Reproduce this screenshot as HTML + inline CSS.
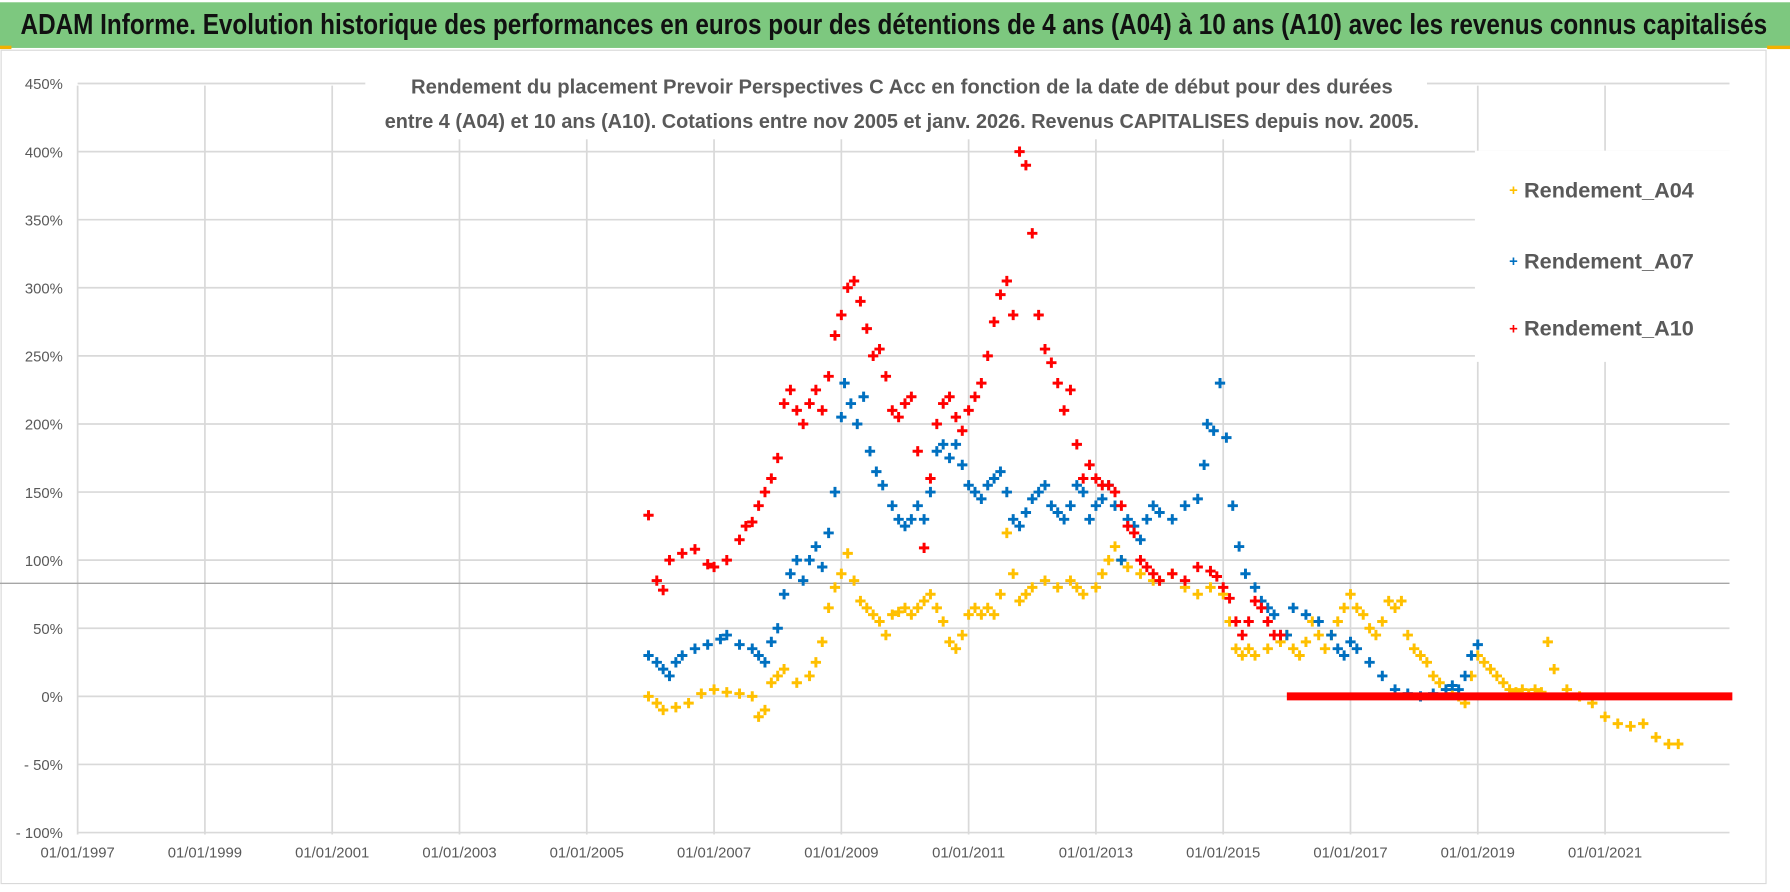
<!DOCTYPE html>
<html><head><meta charset="utf-8"><style>
body{margin:0;background:#fff;width:1790px;height:887px;overflow:hidden;font-family:"Liberation Sans",sans-serif}
</style></head><body>
<svg id="chart" width="1790" height="887" viewBox="0 0 1568 777" preserveAspectRatio="none" xmlns="http://www.w3.org/2000/svg">
<rect x="0" y="0" width="1568" height="777" fill="#fff"/>
<rect x="0" y="2" width="1568" height="40" fill="#7dc87f"/>
<rect x="0" y="40" width="10" height="3" fill="#f2b100"/>
<rect x="1548" y="40" width="20" height="3" fill="#f2b100"/>
<text x="783" y="30" text-anchor="middle" font-size="25" font-weight="bold" fill="#111" textLength="1530" lengthAdjust="spacingAndGlyphs">ADAM Informe. Evolution historique des performances en euros pour des détentions de 4 ans (A04) à 10 ans (A10) avec les revenus connus capitalisés</text>
<rect x="1" y="44" width="1546" height="730" fill="none" stroke="#d9d9d9"/>
<g id="grid"></g>
<g id="axes"></g>
<rect x="320" y="58" width="930" height="64" fill="#fff"/>
<text x="790" y="82" text-anchor="middle" font-size="18" font-weight="bold" fill="#595959" textLength="860" lengthAdjust="spacingAndGlyphs">Rendement du placement Prevoir Perspectives C Acc en fonction de la date de début pour des durées</text>
<text x="790" y="112" text-anchor="middle" font-size="18" font-weight="bold" fill="#595959" textLength="906" lengthAdjust="spacingAndGlyphs">entre 4 (A04) et 10 ans (A10). Cotations entre nov 2005 et janv. 2026. Revenus CAPITALISES depuis nov. 2005.</text>
<g id="marks"></g>
<g>
<rect x="1292" y="132" width="230" height="185" fill="#fff"/>
<g><text x="1322" y="171" font-size="13" fill="#ffc000" font-weight="bold">+</text><text x="1335" y="173" font-size="19" font-weight="bold" fill="#595959">Rendement_A04</text></g>
<g><text x="1322" y="233" font-size="13" fill="#0070c0" font-weight="bold">+</text><text x="1335" y="235" font-size="19" font-weight="bold" fill="#595959">Rendement_A07</text></g>
<g><text x="1322" y="292" font-size="13" fill="#ff0000" font-weight="bold">+</text><text x="1335" y="294" font-size="19" font-weight="bold" fill="#595959">Rendement_A10</text></g>
</g>
</svg>
<script>
const yTicks=[450,400,350,300,250,200,150,100,50,0,-50,-100];
const yTickLabels=["450%","400%","350%","300%","250%","200%","150%","100%","50%","0%","- 50%","- 100%"];
const xTicks=[1997,1999,2001,2003,2005,2007,2009,2011,2013,2015,2017,2019,2021];
const xTickLabels=["01/01/1997","01/01/1999","01/01/2001","01/01/2003","01/01/2005","01/01/2007","01/01/2009","01/01/2011","01/01/2013","01/01/2015","01/01/2017","01/01/2019","01/01/2021"];
const refLine=83;
const a10Dates=[2005.97,2006.1,2006.2,2006.3,2006.5,2006.7,2006.9,2007.0,2007.2,2007.4,2007.5,2007.6,2007.7,2007.8,2007.9,2008.0,2008.1,2008.2,2008.3,2008.4,2008.5,2008.6,2008.7,2008.8,2008.9,2009.0,2009.1,2009.2,2009.3,2009.4,2009.5,2009.6,2009.7,2009.8,2009.9,2010.0,2010.1,2010.2,2010.3,2010.4,2010.5,2010.6,2010.7,2010.8,2010.9,2011.0,2011.1,2011.2,2011.3,2011.4,2011.5,2011.6,2011.7,2011.8,2011.9,2012.0,2012.1,2012.2,2012.3,2012.4,2012.5,2012.6,2012.7,2012.8,2012.9,2013.0,2013.1,2013.2,2013.3,2013.4,2013.5,2013.6,2013.7,2013.8,2013.9,2014.0,2014.2,2014.4,2014.6,2014.8,2014.9,2015.0,2015.1,2015.2,2015.3,2015.4,2015.5,2015.6,2015.7,2015.8,2015.9];
const a10Values=[133,85,78,100,105,108,97,95,100,115,125,128,140,150,160,175,215,225,210,200,215,225,210,235,265,280,300,305,290,270,250,255,235,210,205,215,220,180,109,160,200,215,220,205,195,210,220,230,250,275,295,305,280,400,390,340,280,255,245,230,210,225,185,160,170,160,155,155,150,140,125,120,100,95,90,85,90,85,95,92,88,80,72,55,45,55,70,65,55,45,45];
const a10FlatDates=[2016.0,2023.0];
const a10FlatValues=[0,0];
const a07Dates=[2005.97,2006.1,2006.2,2006.3,2006.4,2006.5,2006.7,2006.9,2007.1,2007.2,2007.4,2007.6,2007.7,2007.8,2007.9,2008.0,2008.1,2008.2,2008.3,2008.4,2008.5,2008.6,2008.7,2008.8,2008.9,2009.0,2009.05,2009.15,2009.25,2009.35,2009.45,2009.55,2009.65,2009.8,2009.9,2010.0,2010.1,2010.2,2010.3,2010.4,2010.5,2010.6,2010.7,2010.8,2010.9,2011.0,2011.1,2011.2,2011.3,2011.4,2011.5,2011.6,2011.7,2011.8,2011.9,2012.0,2012.1,2012.2,2012.3,2012.4,2012.5,2012.6,2012.7,2012.8,2012.9,2013.0,2013.1,2013.2,2013.3,2013.4,2013.5,2013.6,2013.7,2013.8,2013.9,2014.0,2014.2,2014.4,2014.6,2014.7,2014.75,2014.85,2014.95,2015.05,2015.15,2015.25,2015.35,2015.5,2015.6,2015.7,2015.8,2015.9,2016.0,2016.1,2016.3,2016.5,2016.7,2016.8,2016.9,2017.0,2017.1,2017.3,2017.5,2017.7,2017.9,2018.1,2018.3,2018.5,2018.6,2018.7,2018.8,2018.9,2019.0];
const a07Values=[30,25,20,15,25,30,35,38,42,45,38,35,30,25,40,50,75,90,100,85,100,110,95,120,150,205,230,215,200,220,180,165,155,140,130,125,130,140,130,150,180,185,175,185,170,155,150,145,155,160,165,150,130,125,135,145,150,155,140,135,130,140,155,150,130,140,145,155,140,100,130,125,115,130,140,135,130,140,145,170,200,195,230,190,140,110,90,80,70,65,60,45,45,65,60,55,45,35,30,40,35,25,15,5,2,0,2,5,8,5,15,30,38];
const a04Dates=[2005.97,2006.1,2006.2,2006.4,2006.6,2006.8,2007.0,2007.2,2007.4,2007.6,2007.7,2007.8,2007.9,2008.0,2008.1,2008.3,2008.5,2008.6,2008.7,2008.8,2008.9,2009.0,2009.1,2009.2,2009.3,2009.4,2009.5,2009.6,2009.7,2009.8,2009.9,2010.0,2010.1,2010.2,2010.3,2010.4,2010.5,2010.6,2010.7,2010.8,2010.9,2011.0,2011.1,2011.2,2011.3,2011.4,2011.5,2011.6,2011.7,2011.8,2011.9,2012.0,2012.2,2012.4,2012.6,2012.7,2012.8,2013.0,2013.1,2013.2,2013.3,2013.4,2013.5,2013.7,2013.9,2014.0,2014.2,2014.4,2014.6,2014.8,2015.0,2015.1,2015.2,2015.3,2015.4,2015.5,2015.7,2015.9,2016.0,2016.1,2016.2,2016.3,2016.4,2016.5,2016.6,2016.7,2016.8,2016.9,2017.0,2017.1,2017.2,2017.3,2017.4,2017.5,2017.6,2017.7,2017.8,2017.9,2018.0,2018.1,2018.2,2018.3,2018.4,2018.5,2018.6,2018.7,2018.8,2018.9,2019.0,2019.1,2019.2,2019.3,2019.4,2019.5,2019.6,2019.7,2019.8,2019.9,2020.0,2020.1,2020.2,2020.4,2020.6,2020.8,2021.0,2021.2,2021.4,2021.6,2021.8,2022.0,2022.15];
const a04Values=[0,-5,-10,-8,-5,2,5,3,2,0,-15,-10,10,15,20,10,15,25,40,65,80,90,105,85,70,65,60,55,45,60,62,65,60,65,70,75,65,55,40,35,45,60,65,60,65,60,75,120,90,70,75,80,85,80,85,80,75,80,90,100,110,100,95,90,85,85,90,80,75,80,75,55,35,30,35,30,35,40,45,35,30,40,55,45,35,45,55,65,75,65,60,50,45,55,70,65,70,45,35,30,25,15,10,5,2,0,-5,15,30,25,20,15,10,5,3,5,2,5,3,40,20,5,0,-5,-15,-20,-22,-20,-30,-35,-35];

const X0=68,XPY=55.75,Y0=610,YPP=1.193,PL=68,PR=1515,PT=75,PB=731;
const xs=d=>X0+(d-1997)*XPY;
const ys=v=>Y0-v*YPP;
const NS="http://www.w3.org/2000/svg";
function mk(tag,attrs,parent){const e=document.createElementNS(NS,tag);for(const k in attrs)e.setAttribute(k,attrs[k]);parent.appendChild(e);return e;}
const grid=document.getElementById('grid'),axes=document.getElementById('axes'),marks=document.getElementById('marks');
yTicks.forEach((t,i)=>{
  const l=mk('line',{x1:PL,x2:PR,y1:ys(t),y2:ys(t),stroke:'#d9d9d9','stroke-width':1.5},grid);
  
  
  const tx=mk('text',{x:55,y:ys(t)+5,'text-anchor':'end','font-size':13,fill:'#595959'},axes);
  tx.textContent=yTickLabels[i];
  
  
});
xTicks.forEach((t,i)=>{
  const l=mk('line',{x1:xs(t),x2:xs(t),y1:PT,y2:PB,stroke:'#d9d9d9','stroke-width':1.5},grid);
  
  
  const tx=mk('text',{x:xs(t),y:751,'text-anchor':'middle','font-size':13,fill:'#595959'},axes);
  tx.textContent=xTickLabels[i];
  
  
});
const rl=mk('line',{x1:0,x2:PR,y1:ys(refLine),y2:ys(refLine),stroke:'#a6a6a6','stroke-width':1.2},grid);


function plus(x,y,c,name){
  const p=mk('path',{d:`M${x-4.5} ${y}H${x+4.5}M${x} ${y-4.5}V${y+4.5}`,stroke:c,'stroke-width':2.6,fill:'none'},marks);
  
  
}
function series(dates,vals,c,name){
  dates.forEach((d,i)=>plus(xs(d),ys(vals[i]),c,name+'-point'));
}
series(a04Dates,a04Values,'#ffc000','a04');
series(a07Dates,a07Values,'#0070c0','a07');
series(a10Dates,a10Values,'#ff0000','a10');
const fl=mk('line',{x1:xs(a10FlatDates[0]),x2:xs(a10FlatDates[1]),y1:ys(a10FlatValues[0]),y2:ys(a10FlatValues[1]),stroke:'#ff0000','stroke-width':7},marks);


</script>
</body></html>
